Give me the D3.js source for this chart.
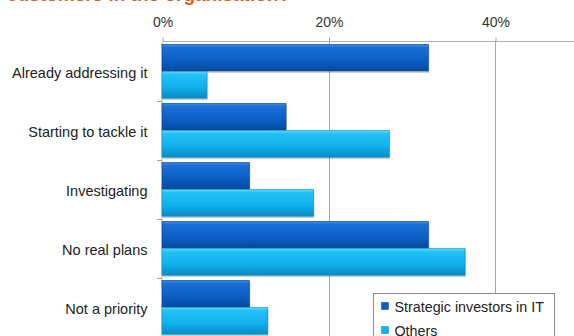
<!DOCTYPE html>
<html>
<head>
<meta charset="utf-8">
<script src="https://cdn.jsdelivr.net/npm/d3@7"></script>
<style>
  html, body { margin: 0; padding: 0; background: #fff; }
  svg { display: block; }
  text { font-family: "Liberation Sans", Arial, sans-serif; }
</style>
</head>
<body>
<svg id="chart" width="574" height="336"></svg>
<script>
// Survey responses, percent of respondents
const categories = ["Already addressing it", "Starting to tackle it", "Investigating", "No real plans", "Not a priority"];
const seriesNames = ["Strategic investors in IT", "Others"];
const strategicValues = [32.0, 14.9, 10.5, 32.0, 10.5];
const otherValues = [5.4, 27.3, 18.2, 36.4, 12.7];
const tickValues = [0, 20, 40];
const titleText = "customers in the organisation?";

const svg = d3.select("#chart");
const W = 574, H = 336;
const margin = { left: 162, top: 41 };

// 0% .. 40% spans 162 .. 495 px; the plot continues to the right edge
const x = d3.scaleLinear().domain([0, 40]).range([margin.left, 495]);
const y = d3.scaleBand().domain(categories).range([margin.top + 1, margin.top + 1 + 59 * 5]);
const inner = d3.scaleBand().domain(seriesNames).range([0, y.bandwidth()]).paddingOuter(0.085);

// Gradients for the bevelled bars
const defs = svg.append("defs");
const grads = [
  { id: "g0", stops: [["0%", "#3f8fe6"], ["12%", "#1c6fd6"], ["60%", "#0a5ec4"], ["100%", "#064a9e"]] },
  { id: "g1", stops: [["0%", "#5fdcff"], ["12%", "#22c2f7"], ["60%", "#0fb0ec"], ["100%", "#0a8ac4"]] }
];
grads.forEach(g => {
  const lg = defs.append("linearGradient").attr("id", g.id).attr("x1", 0).attr("y1", 0).attr("x2", 0).attr("y2", 1);
  g.stops.forEach(s => lg.append("stop").attr("offset", s[0]).attr("stop-color", s[1]));
});
const colors = ["#0a5ec4", "#10b2ee"];
const edges = ["#05489a", "#0a88c0"];

// Title (runs off the top edge)
svg.append("text")
  .attr("x", 290).attr("y", 1)
  .attr("text-anchor", "end")
  .attr("fill", "#e85a24")
  .attr("font-weight", "bold")
  .attr("font-size", 19)
  .text(titleText);

// Vertical gridlines
svg.append("g").selectAll("line")
  .data(tickValues.filter(d => d > 0))
  .join("line")
  .attr("x1", d => Math.round(x(d)) + 0.5).attr("x2", d => Math.round(x(d)) + 0.5)
  .attr("y1", margin.top).attr("y2", H)
  .attr("stroke", "#a6a6a6").attr("stroke-width", 1);

// Top axis
const xAxis = svg.append("g")
  .attr("transform", `translate(0.5,${margin.top + 0.5})`)
  .call(d3.axisTop(x).tickValues(tickValues).tickFormat(d => d + "%").tickSize(4).tickSizeOuter(0));
xAxis.select(".domain").attr("d", `M${margin.left},0H${W}`).attr("stroke", "#b0b0b0");
xAxis.selectAll(".tick line").attr("stroke", "#a0a0a0");
xAxis.selectAll(".tick text").attr("font-size", 14).attr("fill", "#333").attr("y", -15)
  .style("font-family", "'Liberation Sans', Arial, sans-serif");

// Left axis
const yAxis = svg.append("g")
  .attr("transform", `translate(${margin.left - 0.5},0)`)
  .call(d3.axisLeft(y).tickSize(0).tickPadding(14));
yAxis.select(".domain").attr("stroke", "#b0b0b0");
yAxis.selectAll(".tick text").attr("font-size", 14.5).attr("fill", "#222").attr("dy", "0.42em")
  .style("font-family", "'Liberation Sans', Arial, sans-serif");
// Category boundary ticks
svg.append("g").selectAll("line")
  .data(categories.slice(1))
  .join("line")
  .attr("x1", margin.left - 5).attr("x2", margin.left)
  .attr("y1", d => Math.round(y(d)) + 0.5).attr("y2", d => Math.round(y(d)) + 0.5)
  .attr("stroke", "#a0a0a0");

// Bars
const rows = categories.map((c, i) => ({ cat: c, vals: [strategicValues[i], otherValues[i]] }));
const groups = svg.append("g").selectAll("g")
  .data(rows).join("g")
  .attr("transform", d => `translate(0,${y(d.cat)})`);

groups.selectAll("rect.shadow")
  .data(d => d.vals.map((v, k) => ({ v, k })))
  .join("rect").attr("class", "shadow")
  .attr("x", x(0) + 1)
  .attr("y", d => inner(seriesNames[d.k]) + 1.5)
  .attr("width", d => x(d.v) - x(0))
  .attr("height", inner.bandwidth())
  .attr("fill", "rgba(0,0,0,0.18)");

groups.selectAll("rect.bar")
  .data(d => d.vals.map((v, k) => ({ v, k })))
  .join("rect").attr("class", "bar")
  .attr("x", x(0))
  .attr("y", d => inner(seriesNames[d.k]))
  .attr("width", d => x(d.v) - x(0))
  .attr("height", inner.bandwidth() - 0.5)
  .attr("fill", d => `url(#g${d.k})`)
  .attr("stroke", d => edges[d.k])
  .attr("stroke-width", 0.6);

// Legend
const lg = svg.append("g").attr("transform", "translate(373.5,293.5)");
lg.append("rect").attr("width", 181).attr("height", 60)
  .attr("fill", "#fff").attr("stroke", "#8c8c8c");
seriesNames.forEach((name, i) => {
  const row = lg.append("g").attr("transform", `translate(8,${13 + i * 24})`);
  row.append("rect").attr("x", 0).attr("y", -4).attr("width", 7).attr("height", 7)
    .attr("fill", colors[i]).attr("stroke", edges[i]).attr("stroke-width", 0.5);
  row.append("text").attr("x", 13).attr("y", 0).attr("dy", "0.36em")
    .attr("font-size", 14.3).attr("fill", "#222").text(name);
});
</script>
</body>
</html>
